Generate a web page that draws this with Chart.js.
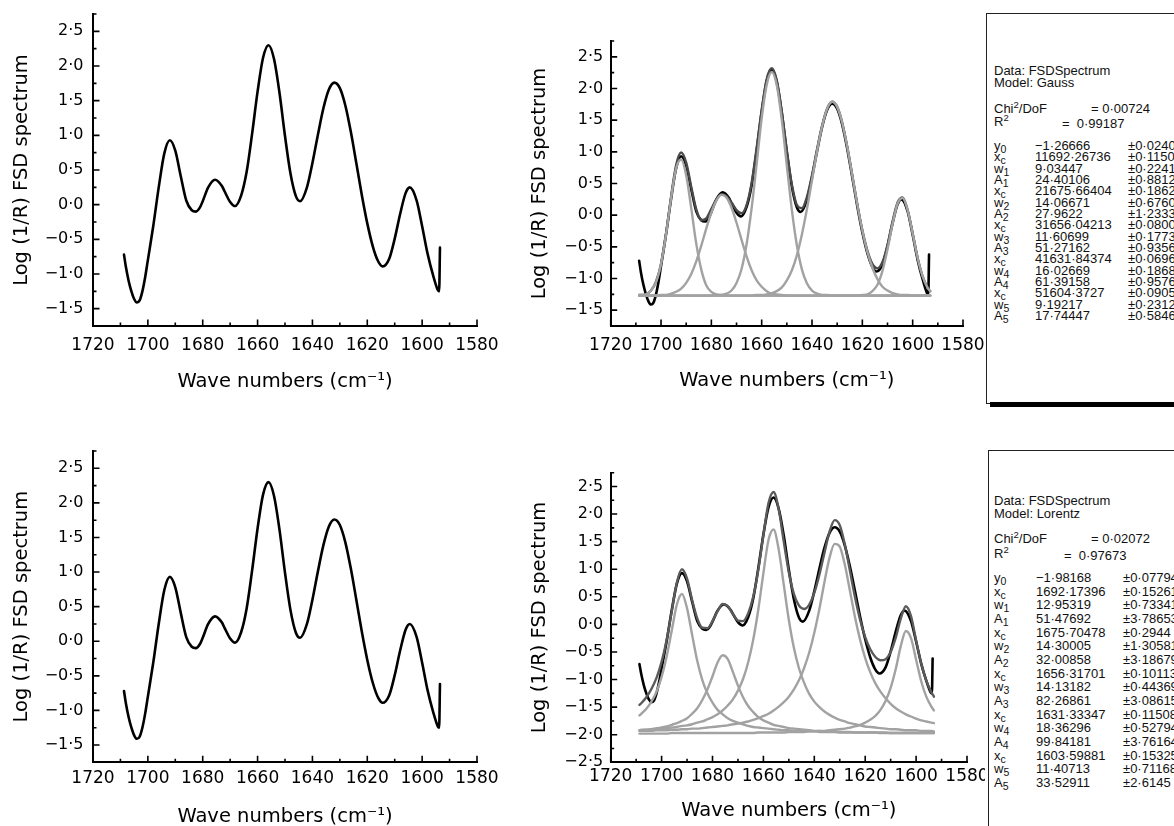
<!DOCTYPE html>
<html><head><meta charset="utf-8">
<script src="https://cdn.jsdelivr.net/npm/chart.js@4.4.1/dist/chart.umd.min.js"></script>
<style>
html,body{margin:0;padding:0;background:#fff;}
body{width:1174px;height:826px;position:relative;overflow:hidden;font-family:"DejaVu Sans",sans-serif;}
canvas{position:absolute;}
.box{position:absolute;border:1px solid #222;background:transparent;}
.t{position:absolute;white-space:nowrap;font-family:"Liberation Sans",Arial,sans-serif;font-size:13px;line-height:12px;height:12px;color:#111;}
.t sub{font-size:10.5px;vertical-align:-3px;line-height:0;}
.t sup{font-size:9.5px;vertical-align:5px;line-height:0;}
</style></head><body>
<div class="box" style="left:986px;top:13px;width:220px;height:389px;"></div>
<div style="position:absolute;left:990px;top:402px;width:220px;height:5px;background:#000;"></div>
<div class="box" style="left:988px;top:450px;width:220px;height:420px;"></div>
<canvas id="p1" width="520" height="400" style="left:0;top:0"></canvas>
<canvas id="p2" width="467" height="400" style="left:518px;top:0"></canvas>
<canvas id="p3" width="520" height="400" style="left:0;top:437px"></canvas>
<canvas id="p4" width="467" height="400" style="left:518px;top:437px"></canvas>
<script>
// ---------- axis ticks ----------
const xMajor = [1720,1700,1680,1660,1640,1620,1600,1580];
const xLabels = ['1720','1700','1680','1660','1640','1620','1600','1580'];
const xMinor = [1710,1690,1670,1650,1630,1610,1590];
const yMajorA = [2.5,2.0,1.5,1.0,0.5,0.0,-0.5,-1.0,-1.5];
const yLabelsA = ['2·5','2·0','1·5','1·0','0·5','0·0','−0·5','−1·0','−1·5'];
const yMinorA = [2.75,2.25,1.75,1.25,0.75,0.25,-0.25,-0.75,-1.25];
const yMajorB = [2.5,2.0,1.5,1.0,0.5,0.0,-0.5,-1.0,-1.5,-2.0,-2.5];
const yLabelsB = ['2·5','2·0','1·5','1·0','0·5','0·0','−0·5','−1·0','−1·5','−2·0','−2·5'];
const yMinorB = [2.75,2.25,1.75,1.25,0.75,0.25,-0.25,-0.75,-1.25,-1.75,-2.25];

// ---------- measured FSD spectrum ----------
const specX = [1708.7,1708,1707,1706,1705,1704,1703,1702,1701,1700,
 1698,1696,1694,1692,1690,1688,1686,1684,1682.5,1681,
 1680,1678,1675.5,1673,1672,1670,1668.2,1666,1664,1662,
 1660,1658,1656,1654,1652,1650,1648,1646,1644.5,1642,
 1640,1638,1636,1634,1632,1630,1628,1626,1624,1622,
 1620,1618,1616,1614.4,1612,1610,1608,1606,1604.5,1602,
 1600,1598,1596,1594.3,1593.8,1593.5];
const specY = [-0.72,-0.90,-1.10,-1.25,-1.36,-1.41,-1.38,-1.25,-1.05,-0.80,
 -0.30,0.26,0.74,0.93,0.78,0.41,0.06,-0.08,-0.10,-0.04,
 0.05,0.25,0.36,0.27,0.19,0.04,-0.02,0.13,0.47,1.02,
 1.63,2.12,2.30,2.10,1.61,0.99,0.45,0.12,0.05,0.25,
 0.60,1.01,1.39,1.66,1.76,1.68,1.43,1.05,0.60,0.14,
 -0.27,-0.60,-0.82,-0.89,-0.78,-0.49,-0.13,0.17,0.25,0.06,
 -0.31,-0.71,-1.02,-1.23,-1.25,-0.62];

// ---------- fit grid ----------
const gridX = [1708.7,1708,1706,1704,1702,1700,1698,1696,1694,1692,
 1690,1688,1686,1684,1682,1680,1678,1676,1674,1672,
 1670,1668,1666,1664,1662,1660,1658,1656,1654,1652,
 1650,1648,1646,1644,1642,1640,1638,1636,1634,1632,
 1630,1628,1626,1624,1622,1620,1618,1616,1614,1612,
 1610,1608,1606,1604,1602,1600,1598,1596,1594,1593];

// ---------- Gauss fit ----------
const gaussFit = [-1.26,-1.26,-1.25,-1.19,-1.05,-0.77,-0.29,0.29,0.79,0.99,
 0.83,0.45,0.09,-0.08,-0.05,0.10,0.25,0.33,0.30,0.20,
 0.08,0.03,0.16,0.51,1.06,1.66,2.15,2.32,2.13,1.63,
 1.02,0.48,0.16,0.11,0.29,0.63,1.04,1.41,1.68,1.79,
 1.71,1.46,1.08,0.63,0.17,-0.24,-0.56,-0.77,-0.84,-0.74,
 -0.47,-0.10,0.20,0.28,0.08,-0.29,-0.68,-0.97,-1.15,-1.20];
const gauss1X = [1708.7,1708,1706,1704,1702,1700,1698,1696,1694,1692,1690,1688,1686,1684,1682,1680,1678,1676,1674,1593];
const gauss1Y = [-1.26,-1.26,-1.25,-1.19,-1.06,-0.77,-0.30,0.27,0.74,0.88,0.63,0.11,-0.45,-0.86,-1.11,-1.21,-1.25,-1.26,-1.27,-1.27];
const gauss2X = [1708.7,1702,1700,1698,1696,1694,1692,1690,1688,1686,1684,1682,1680,1678,1676,1674,1672,1670,1668,1666,1664,1662,1660,1658,1656,1654,1652,1650,1593];
const gauss2Y = [-1.27,-1.27,-1.26,-1.26,-1.24,-1.21,-1.16,-1.07,-0.93,-0.73,-0.48,-0.21,0.04,0.23,0.32,0.28,0.12,-0.12,-0.39,-0.65,-0.87,-1.03,-1.13,-1.20,-1.24,-1.25,-1.26,-1.27,-1.27];
const gauss3X = [1708.7,1680,1678,1676,1674,1672,1670,1668,1666,1664,1662,1660,1658,1656,1654,1652,1650,1648,1646,1644,1642,1640,1638,1636,1634,1632,1593];
const gauss3Y = [-1.27,-1.27,-1.26,-1.26,-1.24,-1.19,-1.07,-0.85,-0.46,0.11,0.81,1.53,2.06,2.26,2.05,1.50,0.78,0.08,-0.48,-0.86,-1.08,-1.19,-1.24,-1.26,-1.26,-1.27,-1.27];
const gauss4X = [1708.7,1664,1662,1660,1658,1656,1654,1652,1650,1648,1646,1644,1642,1640,1638,1636,1634,1632,1630,1628,1626,1624,1622,1620,1618,1616,1614,1612,1610,1608,1606,1604,1602,1600,1593];
const gauss4Y = [-1.27,-1.27,-1.26,-1.26,-1.25,-1.23,-1.20,-1.14,-1.03,-0.87,-0.63,-0.30,0.10,0.55,1.01,1.40,1.68,1.79,1.71,1.46,1.08,0.63,0.17,-0.24,-0.58,-0.83,-1.01,-1.13,-1.19,-1.23,-1.25,-1.26,-1.26,-1.27,-1.27];
const gauss5X = [1708.7,1622,1620,1618,1616,1614,1612,1610,1608,1606,1604,1602,1600,1598,1596,1594,1593];
const gauss5Y = [-1.27,-1.27,-1.26,-1.25,-1.20,-1.10,-0.88,-0.54,-0.14,0.18,0.27,0.08,-0.29,-0.68,-0.97,-1.15,-1.20];

// ---------- Lorentz fit (on gridX) ----------
const lorentzFit = [-1.46,-1.43,-1.32,-1.17,-0.97,-0.68,-0.28,0.24,0.76,1.00,
 0.83,0.44,0.11,-0.06,-0.07,0.06,0.24,0.37,0.33,0.19,
 0.07,0.06,0.20,0.50,0.99,1.62,2.20,2.40,2.09,1.50,
 0.94,0.55,0.34,0.28,0.36,0.57,0.90,1.30,1.68,1.89,
 1.80,1.45,0.97,0.49,0.08,-0.23,-0.45,-0.59,-0.65,-0.63,
 -0.50,-0.24,0.11,0.33,0.15,-0.29,-0.71,-1.02,-1.23,-1.31];
const lorentz1 = [-1.65,-1.62,-1.53,-1.40,-1.22,-0.95,-0.58,-0.11,0.36,0.55,
 0.29,-0.19,-0.66,-1.01,-1.25,-1.42,-1.55,-1.63,-1.70,-1.75,
 -1.78,-1.81,-1.84,-1.86,-1.87,-1.88,-1.89,-1.90,-1.91,-1.92,
 -1.92,-1.93,-1.93,-1.94,-1.94,-1.94,-1.95,-1.95,-1.95,-1.95,
 -1.96,-1.96,-1.96,-1.96,-1.96,-1.96,-1.96,-1.96,-1.97,-1.97,
 -1.97,-1.97,-1.97,-1.97,-1.97,-1.97,-1.97,-1.97,-1.97,-1.97];
const lorentz2 = [-1.92,-1.92,-1.91,-1.90,-1.88,-1.87,-1.85,-1.82,-1.79,-1.75,
 -1.70,-1.62,-1.52,-1.37,-1.18,-0.94,-0.69,-0.56,-0.63,-0.86,
 -1.11,-1.32,-1.48,-1.59,-1.68,-1.74,-1.78,-1.82,-1.84,-1.86,
 -1.88,-1.89,-1.90,-1.91,-1.92,-1.93,-1.93,-1.94,-1.94,-1.94,
 -1.95,-1.95,-1.95,-1.96,-1.96,-1.96,-1.96,-1.96,-1.96,-1.96,
 -1.97,-1.97,-1.97,-1.97,-1.97,-1.97,-1.97,-1.97,-1.97,-1.97];
const lorentz3 = [-1.92,-1.91,-1.91,-1.90,-1.90,-1.89,-1.88,-1.87,-1.86,-1.84,
 -1.83,-1.81,-1.78,-1.76,-1.72,-1.68,-1.63,-1.56,-1.47,-1.36,
 -1.20,-0.99,-0.69,-0.28,0.27,0.93,1.53,1.72,1.36,0.72,
 0.08,-0.43,-0.80,-1.06,-1.26,-1.40,-1.50,-1.58,-1.64,-1.69,
 -1.73,-1.76,-1.79,-1.81,-1.83,-1.85,-1.86,-1.87,-1.88,-1.89,
 -1.90,-1.90,-1.91,-1.92,-1.92,-1.92,-1.93,-1.93,-1.93,-1.94];
const lorentz4 = [-1.93,-1.93,-1.93,-1.93,-1.92,-1.92,-1.92,-1.91,-1.91,-1.90,
 -1.90,-1.89,-1.89,-1.88,-1.87,-1.86,-1.85,-1.84,-1.83,-1.81,
 -1.80,-1.78,-1.76,-1.73,-1.70,-1.66,-1.62,-1.56,-1.49,-1.41,
 -1.31,-1.18,-1.01,-0.79,-0.51,-0.15,0.28,0.77,1.21,1.46,
 1.41,1.08,0.61,0.13,-0.28,-0.61,-0.87,-1.07,-1.22,-1.34,
 -1.44,-1.52,-1.58,-1.63,-1.67,-1.71,-1.74,-1.76,-1.78,-1.79];
const lorentz5 = [-1.98,-1.98,-1.98,-1.98,-1.98,-1.98,-1.98,-1.97,-1.97,-1.97,
 -1.97,-1.97,-1.97,-1.97,-1.97,-1.97,-1.97,-1.97,-1.97,-1.97,
 -1.97,-1.97,-1.97,-1.97,-1.96,-1.96,-1.96,-1.96,-1.96,-1.96,
 -1.95,-1.95,-1.95,-1.95,-1.94,-1.94,-1.93,-1.93,-1.92,-1.91,
 -1.90,-1.89,-1.87,-1.85,-1.82,-1.78,-1.73,-1.66,-1.55,-1.39,
 -1.15,-0.81,-0.39,-0.12,-0.25,-0.64,-1.03,-1.31,-1.49,-1.56];

// ---------- fit result boxes ----------
const paramSym = ['y','x','w','A','x','w','A','x','w','A','x','w','A','x','w','A'];
const paramSub = ['0','c','1','1','c','2','2','c','3','3','c','4','4','c','5','5'];
const gaussVals = ['−1·26666','11692·26736','9·03447','24·40106','21675·66404','14·06671','27·9622','31656·04213','11·60699','51·27162','41631·84374','16·02669','61·39158','51604·3727','9·19217','17·74447'];
const gaussErrs = ['±0·02407','±0·11508','±0·22418','±0·88121','±0·18626','±0·67603','±1·23334','±0·08007','±0·17732','±0·93569','±0·06969','±0·1868','±0·95765','±0·09051','±0·23125','±0·58467'];
const gaussStats = ['0·00724','0·99187'];
const lorentzVals = ['−1·98168','1692·17396','12·95319','51·47692','1675·70478','14·30005','32·00858','1656·31701','14·13182','82·26861','1631·33347','18·36296','99·84181','1603·59881','11·40713','33·52911'];
const lorentzErrs = ['±0·07794','±0·15261','±0·73341','±3·78653','±0·2944','±1·30581','±3·18679','±0·10113','±0·44369','±3·08615','±0·11508','±0·52794','±3·76164','±0·15325','±0·71168','±2·6145'];
const lorentzStats = ['0·02072','0·97673'];

function addText(html, x, yc) {
  const d = document.createElement('div');
  d.className = 't'; d.innerHTML = html;
  d.style.left = x + 'px'; d.style.top = (yc - 6) + 'px';
  document.body.appendChild(d);
}
function buildBox(b, model, stats, vals, errs) {
  addText('Data: FSDSpectrum', b.L, b.data);
  addText('Model: ' + model, b.L, b.data + b.hs);
  addText('Chi<sup>2</sup>/DoF', b.L, b.chi);
  addText('= ' + stats[0], b.chiX, b.chi);
  addText('R<sup>2</sup>', b.L, b.r2);
  addText('= &nbsp;' + stats[1], b.r2X, b.r2 + 2);
  for (let i = 0; i < vals.length; i++) {
    const yc = b.row0 + i * b.step;
    addText(paramSym[i] + '<sub>' + paramSub[i] + '</sub>', b.L, yc);
    addText(vals[i], b.V, yc);
    addText(errs[i], b.E, yc);
  }
}
buildBox({L:994, V:1035, E:1128, data:71, hs:12, chi:109, chiX:1091, r2:122, r2X:1062, row0:146, step:11.33}, 'Gauss', gaussStats, gaussVals, gaussErrs);
buildBox({L:994, V:1036, E:1123, data:501, hs:13, chi:539, chiX:1091, r2:554, r2X:1064, row0:578, step:13.67}, 'Lorentz', lorentzStats, lorentzVals, lorentzErrs);

// ---------- chart helpers ----------
const pts = (xs, ys) => xs.map((x, i) => ({x: x, y: ys[i]}));
const inTicks = {
  id: 'inTicks',
  afterDatasetsDraw(chart, args, o) {
    const {ctx, chartArea: ca, scales: {x, y}} = chart;
    ctx.save();
    ctx.strokeStyle = '#000'; ctx.lineWidth = 1.6;
    ctx.beginPath();
    o.xMajor.forEach(v => { const p = x.getPixelForValue(v); ctx.moveTo(p, ca.bottom); ctx.lineTo(p, ca.bottom - 6.5); });
    o.xMinor.forEach(v => { const p = x.getPixelForValue(v); ctx.moveTo(p, ca.bottom); ctx.lineTo(p, ca.bottom - 3.5); });
    o.yMajor.forEach(v => { const p = y.getPixelForValue(v); ctx.moveTo(ca.left, p); ctx.lineTo(ca.left + 6.5, p); });
    o.yMinor.forEach(v => { const p = y.getPixelForValue(v); ctx.moveTo(ca.left, p); ctx.lineTo(ca.left + 3.5, p); });
    ctx.stroke();
    ctx.restore();
  }
};
const FONT = 'DejaVu Sans';
function panel(id, g, yMin, yMajor, yLabels, yMinor, datasets) {
  return new Chart(document.getElementById(id), {
    type: 'line',
    data: {datasets: datasets},
    options: {
      responsive: false, animation: false, devicePixelRatio: 1,
      layout: {autoPadding: false, padding: {top: g.padTop, right: g.padRight, left: 0, bottom: 0}},
      plugins: {legend: {display: false}, tooltip: {enabled: false},
        inTicks: {xMajor: xMajor, xMinor: xMinor, yMajor: yMajor, yMinor: yMinor}},
      elements: {point: {radius: 0}, line: {cubicInterpolationMode: 'monotone', borderCapStyle: 'round', borderJoinStyle: 'round'}},
      scales: {
        x: {type: 'linear', min: 1580, max: 1720, reverse: true,
          afterBuildTicks: s => { s.ticks = xMajor.map(v => ({value: v})); },
          afterFit: s => { s.height = g.xH; s.paddingLeft = 0; s.paddingRight = 0; s.paddingTop = 0; s.paddingBottom = 0; },
          grid: {display: false, drawTicks: false},
          border: {display: true, color: '#000', width: 2},
          ticks: {autoSkip: false, maxRotation: 0, minRotation: 0, padding: g.xTickPad, color: '#000',
            font: {family: FONT, size: 17}, callback: v => xLabels[xMajor.indexOf(v)]},
          title: {display: true, text: 'Wave numbers (cm⁻¹)', color: '#000',
            font: {family: FONT, size: 19.5, lineHeight: 1}, padding: {top: 0, bottom: g.xTitlePad}}
        },
        y: {type: 'linear', min: yMin, max: 2.75,
          afterBuildTicks: s => { s.ticks = yMajor.map(v => ({value: v})); },
          afterFit: s => { s.width = g.yW; s.paddingLeft = 0; s.paddingRight = 0; s.paddingTop = 0; s.paddingBottom = 0; },
          grid: {display: false, drawTicks: false},
          border: {display: true, color: '#000', width: 2},
          ticks: {autoSkip: false, padding: g.yTickPad, color: '#000',
            font: {family: FONT, size: 16}, callback: v => yLabels[yMajor.indexOf(v)]},
          title: {display: true, text: 'Log (1/R) FSD spectrum', color: '#000',
            font: {family: FONT, size: 19.5, lineHeight: 1}, padding: {top: g.yTitlePad, bottom: 0}}
        }
      }
    },
    plugins: [inTicks]
  });
}
const specSet = () => ({data: pts(specX, specY), borderColor: '#000', borderWidth: 2.6});
const comp = (xs, ys) => ({data: pts(xs, ys), borderColor: '#a2a2a2', borderWidth: 2.4});

panel('p1', {padTop: 14, padRight: 43, yW: 93, xH: 74, xTickPad: 9.5, yTickPad: 9.5, xTitlePad: 8.5, yTitlePad: 12.25},
  -1.75, yMajorA, yLabelsA, yMinorA, [specSet()]);
panel('p2', {padTop: 41, padRight: 22, yW: 92.7, xH: 74, xTickPad: 9, yTickPad: 7.5, xTitlePad: 9.5, yTitlePad: 12.25},
  -1.75, yMajorA, yLabelsA, yMinorA, [
    comp(gauss1X, gauss1Y), comp(gauss2X, gauss2Y), comp(gauss3X, gauss3Y), comp(gauss4X, gauss4Y), comp(gauss5X, gauss5Y),
    {data: pts(gridX, gaussFit), borderColor: '#4a4a4a', borderWidth: 2.4},
    specSet()
  ]);
panel('p3', {padTop: 14, padRight: 43, yW: 93, xH: 74.7, xTickPad: 6.5, yTickPad: 9.5, xTitlePad: 10.5, yTitlePad: 12.25},
  -1.75, yMajorA, yLabelsA, yMinorA, [specSet()]);
panel('p4', {padTop: 35.7, padRight: 18, yW: 92.7, xH: 74.7, xTickPad: 4.5, yTickPad: 7.5, xTitlePad: 16, yTitlePad: 12.25},
  -2.5, yMajorB, yLabelsB, yMinorB, [
    comp(gridX, lorentz1), comp(gridX, lorentz2), comp(gridX, lorentz3), comp(gridX, lorentz4), comp(gridX, lorentz5),
    {data: pts(gridX, lorentzFit), borderColor: '#5a5a5a', borderWidth: 2.4},
    specSet()
  ]);
</script>
</body></html>
